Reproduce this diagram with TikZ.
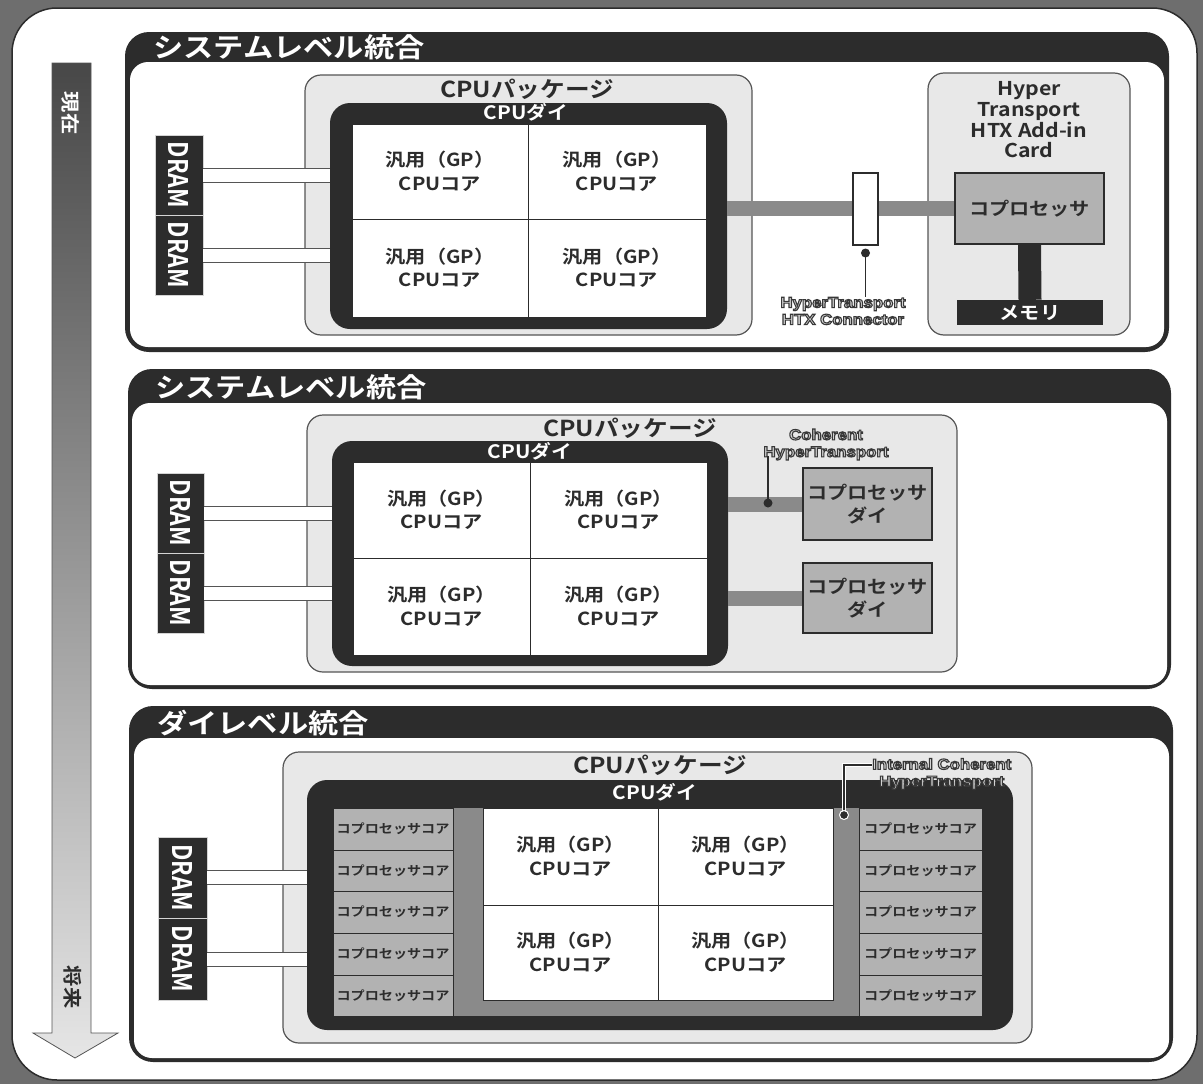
\documentclass[tikz,border=0pt]{standalone}
\usepackage{fontspec}
\usetikzlibrary{fit}
\setmainfont{Noto Sans CJK JP}
\newfontfamily\jpwb{Noto Sans CJK JP Bold}[FakeStretch=1.12]
\newfontfamily\jpnb{Noto Sans CJK JP Bold}[FakeStretch=0.85]
\newfontfamily\htlf{Liberation Sans Bold}[FakeStretch=1.12]
\newcommand\myOutl[1]{\special{pdf:code 0.22 G 1.1 w 2 Tr}#1\special{pdf:code 0 Tr}}
% box from two corners, plus a centred text node named <name>t
\newcommand\myBox[5]{\node[#1, fit={#2 #3}] (#4) {};\node[#1 text] (#4t) at (#4.center) {#5};}
\definecolor{dk}{HTML}{2C2C2C}
\definecolor{bggray}{HTML}{6E6E6E}
\definecolor{pk}{HTML}{E8E8E8}
\definecolor{cp}{HTML}{B2B2B2}
\definecolor{bd}{HTML}{8A8A8A}
\definecolor{ln}{HTML}{555555}
\definecolor{hl}{HTML}{D4D4D4}
\tikzset{
  panelout/.style={fill=dk, rounded corners=24pt, inner sep=0pt},
  panelin/.style={fill=white, rounded corners=18pt, inner sep=0pt},
  ptitle/.style={anchor=west, text=white, inner sep=0pt, font=\jpwb\fontsize{27}{29}\selectfont},
  pkg/.style={fill=pk, draw=ln, line width=1.2pt, rounded corners=16pt, inner sep=0pt},
  pkgtitle/.style={text=dk, inner sep=0pt, font=\jpwb\fontsize{22}{24}\selectfont},
  die/.style={fill=dk, rounded corners=20pt, inner sep=0pt},
  dietitle/.style={text=white, inner sep=0pt, font=\jpwb\fontsize{18.5}{20}\selectfont},
  cell/.style={fill=white, draw=dk, line width=1pt, inner sep=0pt},
  cell text/.style={align=center, inner sep=0pt, text=dk, font=\jpwb\fontsize{18}{23.5}\selectfont},
  dram/.style={fill=dk, draw=hl, line width=0.8pt, inner sep=0pt},
  dram text/.style={inner sep=0pt, text=white, font=\jpnb\fontsize{27}{28}\selectfont},
  copro/.style={fill=cp, draw=dk, line width=1.3pt, inner sep=0pt},
  copro text/.style={align=center, inner sep=0pt, text=dk, font=\jpwb\fontsize{18}{23.5}\selectfont},
  mem/.style={fill=dk, inner sep=0pt},
  mem text/.style={inner sep=0pt, text=white, font=\jpwb\fontsize{18}{20}\selectfont},
  core/.style={fill=cp, draw=dk, line width=1pt, inner sep=0pt},
  core text/.style={inner sep=0pt, text=dk, font=\jpwb\fontsize{12.6}{14}\selectfont},
  dlink/.style={draw=ln, line width=1pt, double=white, double distance=13pt},
  band/.style={draw=bd, line width=15pt},
  htlabel/.style={align=center, inner sep=0pt, text=hl, font=\htlf\fontsize{15}{17}\selectfont},
  thin/.style={draw=dk, line width=1.2pt},
  dot/.style={fill=dk},
}
\begin{document}
\begin{tikzpicture}[x=1pt,y=-1pt]
\useasboundingbox (0,0) rectangle (1203,1084);
\fill[bggray] (0,0) rectangle (1203,1084);
\node[fit={(12,8)(1197,1080)}, inner sep=0pt, fill=white, draw=dk, line width=1.5pt, rounded corners=45pt] (frame) {};

% time arrow
\shadedraw[top color=black!72, bottom color=black!10, draw=ln, line width=0.8pt]
  (52,63) -- (91,63) -- (91,1033) -- (118,1033) -- (75,1058) -- (33,1033) -- (52,1033) -- cycle;
\node[text=white, inner sep=0pt, font=\jpwb\fontsize{19}{20}\selectfont] (now) at (71,113) {\rotatebox{-90}{現在}};
\node[text=dk, inner sep=0pt, font=\jpwb\fontsize{19}{20}\selectfont] (future) at (73,987) {\rotatebox{-90}{将来}};

% ================= Panel 1 =================
\node[panelout, fit={(125,32)(1169,352)}] (p1) {};
\node[panelin, fit={(130,62)(1164,347)}] (p1in) {};
\node[ptitle] (t1) at (153,47) {システムレベル統合};

\node[pkg, fit={(305,75)(752,335)}] (pkg1) {};
\node[pkgtitle] (pkg1t) at (527,89) {CPUパッケージ};
\node[pkg, fit={(928,73)(1130,335)}] (card1) {};
\node[align=center, inner sep=0pt, text=dk, font=\jpwb\fontsize{19}{20.7}\selectfont] (card1t) at (1029,120)
  {Hyper\\Transport\\HTX Add-in\\Card};
\myBox{copro}{(955,173)}{(1104,244)}{cop1}{コプロセッサ}
\myBox{mem}{(957,300)}{(1103,325)}{mem1}{メモリ}
\draw[draw=dk, line width=23pt] (cop1.south) -- (mem1.north);

\myBox{dram}{(155,135)}{(203,215)}{dr1a}{\rotatebox{-90}{DRAM}}
\myBox{dram}{(155,215)}{(203,295)}{dr1b}{\rotatebox{-90}{DRAM}}

\node[die, fit={(330,103)(727,329)}] (die1) {};
\draw[dlink] (dr1a.east) -- (dr1a.east -| die1.west);
\draw[dlink] (dr1b.east) -- (dr1b.east -| die1.west);
\node[dietitle] (die1t) at (526,112) {CPUダイ};
\myBox{cell}{(352,124)}{(528,219)}{c1a}{汎用（GP）\\CPUコア}
\myBox{cell}{(528,124)}{(706,219)}{c1b}{汎用（GP）\\CPUコア}
\myBox{cell}{(352,219)}{(528,317)}{c1c}{汎用（GP）\\CPUコア}
\myBox{cell}{(528,219)}{(706,317)}{c1d}{汎用（GP）\\CPUコア}

\draw[band] (die1.east |- cop1.west) -- (cop1.west);
\node[fill=white, draw=dk, line width=1.2pt, inner sep=0pt, fit={(853,173)(878,245)}] (htx1) {};
\coordinate (htxdot) at (865.5,253);
\node[htlabel] (htx1l) at (843,311) {\myOutl{HyperTransport}\\\myOutl{HTX Connector}};
\draw[thin] (htxdot) -- (htxdot |- htx1l.north);
\fill[dot] (htxdot) circle (4.5);

% ================= Panel 2 =================
\node[panelout, fit={(128,369)(1171,689)}] (p2) {};
\node[panelin, fit={(132,403)(1167,685)}] (p2in) {};
\node[ptitle] (t2) at (155,387) {システムレベル統合};

\node[pkg, fit={(307,415)(957,672)}] (pkg2) {};
\node[pkgtitle] (pkg2t) at (630,428) {CPUパッケージ};
\myBox{dram}{(157,473)}{(204,553)}{dr2a}{\rotatebox{-90}{DRAM}}
\myBox{dram}{(157,553)}{(204,633)}{dr2b}{\rotatebox{-90}{DRAM}}
\node[die, fit={(332,441)(728,666)}] (die2) {};
\draw[dlink] (dr2a.east) -- (dr2a.east -| die2.west);
\draw[dlink] (dr2b.east) -- (dr2b.east -| die2.west);
\node[dietitle] (die2t) at (530,451) {CPUダイ};
\myBox{cell}{(353,462)}{(530,558)}{c2a}{汎用（GP）\\CPUコア}
\myBox{cell}{(530,462)}{(707,558)}{c2b}{汎用（GP）\\CPUコア}
\myBox{cell}{(353,558)}{(530,655)}{c2c}{汎用（GP）\\CPUコア}
\myBox{cell}{(530,558)}{(707,655)}{c2d}{汎用（GP）\\CPUコア}

\myBox{copro}{(803,468)}{(932,540)}{cop2a}{コプロセッサ\\ダイ}
\myBox{copro}{(803,563)}{(932,633)}{cop2b}{コプロセッサ\\ダイ}
\draw[band] (die2.east |- cop2a.west) -- (cop2a.west);
\draw[band] (die2.east |- cop2b.west) -- (cop2b.west);
\node[htlabel] (coh2l) at (826,444.5) {\myOutl{Coherent}\\\myOutl{HyperTransport}};
\coordinate (cohdot) at (768,503);
\draw[thin] (cohdot) -- ([yshift=4pt]cohdot |- coh2l.south);
\fill[dot] (cohdot) circle (4.5);

% ================= Panel 3 =================
\node[panelout, fit={(129,706)(1173,1062)}] (p3) {};
\node[panelin, fit={(134,738)(1169,1058)}] (p3in) {};
\node[ptitle] (t3) at (157,723) {ダイレベル統合};

\node[pkg, fit={(283,752)(1032,1043)}] (pkg3) {};
\node[pkgtitle] (pkg3t) at (660,765) {CPUパッケージ};
\myBox{dram}{(158,837)}{(207,918)}{dr3a}{\rotatebox{-90}{DRAM}}
\myBox{dram}{(158,918)}{(207,1000)}{dr3b}{\rotatebox{-90}{DRAM}}
\node[die, fit={(307,780)(1013,1030)}] (die3) {};
\draw[dlink] (dr3a.east) -- (dr3a.east -| die3.west);
\draw[dlink] (dr3b.east) -- (dr3b.east -| die3.west);
\node[dietitle] (die3t) at (655,792) {CPUダイ};

\node[fill=bd, inner sep=0pt, fit={(453,808)(859,1016)}] (ich) {};
\myBox{cell}{(483,808)}{(658,905)}{c3a}{汎用（GP）\\CPUコア}
\myBox{cell}{(658,808)}{(833,905)}{c3b}{汎用（GP）\\CPUコア}
\myBox{cell}{(483,905)}{(658,1000)}{c3c}{汎用（GP）\\CPUコア}
\myBox{cell}{(658,905)}{(833,1000)}{c3d}{汎用（GP）\\CPUコア}

\myBox{core}{(333,808)}{(453,850)}{l1}{コプロセッサコア}
\myBox{core}{(333,850)}{(453,891)}{l2}{コプロセッサコア}
\myBox{core}{(333,891)}{(453,933)}{l3}{コプロセッサコア}
\myBox{core}{(333,933)}{(453,975)}{l4}{コプロセッサコア}
\myBox{core}{(333,975)}{(453,1016)}{l5}{コプロセッサコア}
\myBox{core}{(859,808)}{(982,850)}{r1}{コプロセッサコア}
\myBox{core}{(859,850)}{(982,891)}{r2}{コプロセッサコア}
\myBox{core}{(859,891)}{(982,933)}{r3}{コプロセッサコア}
\myBox{core}{(859,933)}{(982,975)}{r4}{コプロセッサコア}
\myBox{core}{(859,975)}{(982,1016)}{r5}{コプロセッサコア}

\node[htlabel, anchor=west] (ich3l) at (872,774) {\myOutl{Internal Coherent}\\\myOutl{HyperTransport}};
\coordinate (ichdot) at (844,815);
\coordinate (ichbend) at (844,765);
\draw[draw=white, line width=3.5pt] (ichdot) -- (ichbend) -- (ichbend -| ich3l.west);
\draw[thin] (ichdot) -- (ichbend) -- (ichbend -| ich3l.west);
\fill[dot, draw=white, line width=1pt] (ichdot) circle (4.5);
\end{tikzpicture}
\end{document}
